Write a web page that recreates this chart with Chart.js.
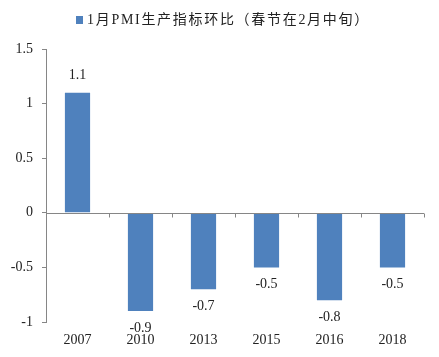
<!DOCTYPE html>
<html><head><meta charset="utf-8">
<script src="https://cdn.jsdelivr.net/npm/chart.js@4"></script>
<style>html,body{margin:0;padding:0;background:#fff}#wrap{width:439px;height:357px}</style>
</head><body><div id="wrap"><canvas id="c" width="439" height="357"></canvas></div>
<script>
const categories = ['2007','2010','2013','2015','2016','2018'];
const values = [1.1, -0.9, -0.7, -0.5, -0.8, -0.5];
const seriesName = '1月PMI生产指标环比（春节在2月中旬）';
const yTicks = [-1, -0.5, 0, 0.5, 1, 1.5];

const FONT = '"Liberation Serif", "Noto Sans CJK SC", serif';
const AXIS = '#868686';
const BAR = 'rgb(79,129,189)';

const overlay = {
  id: 'overlay',
  afterDatasetsDraw(chart) {
    const ctx = chart.ctx, x = chart.scales.x, y = chart.scales.y;
    const y0 = Math.round(y.getPixelForValue(0)) + 0.5;
    ctx.save();
    ctx.strokeStyle = AXIS; ctx.lineWidth = 1;
    ctx.beginPath();
    ctx.moveTo(x.left, y0); ctx.lineTo(x.right, y0);
    const n = categories.length;
    for (let i = 1; i <= n; i++) {
      const px = Math.round(x.left + (x.right - x.left) * i / n) + 0.5;
      ctx.moveTo(px, y0); ctx.lineTo(px, y0 + 4);
    }
    ctx.stroke();
    ctx.font = '14px ' + FONT;
    ctx.fillStyle = '#222';
    ctx.textAlign = 'center'; ctx.textBaseline = 'middle';
    const meta = chart.getDatasetMeta(0);
    meta.data.forEach((bar, i) => {
      const v = values[i];
      const yy = v >= 0 ? bar.y - 17 : bar.y + 17;
      ctx.fillText(String(v), bar.x, yy);
    });
    // legend
    const items = chart.data.datasets.map(d => ({ text: d.label, color: d.backgroundColor }));
    ctx.letterSpacing = '1.7px';
    ctx.textAlign = 'left';
    items.forEach(it => {
      ctx.fillStyle = it.color;
      ctx.fillRect(76, 16, 7, 8);
      ctx.fillStyle = '#222';
      ctx.fillText(it.text, 87, 20.5);
    });
    ctx.restore();
  }
};

new Chart(document.getElementById('c'), {
  type: 'bar',
  data: {
    labels: categories,
    datasets: [{
      label: seriesName,
      data: values,
      backgroundColor: BAR,
      categoryPercentage: 1,
      barPercentage: 0.4
    }]
  },
  options: {
    responsive: false,
    animation: false,
    layout: { padding: { top: 49, right: 15, bottom: 0, left: 0 } },
    plugins: {
      legend: { display: false },
      tooltip: { enabled: false }
    },
    scales: {
      x: {
        afterFit(s) { s.height = 35; },
        grid: { display: false, drawTicks: false },
        border: { display: false },
        ticks: { color: '#222', padding: 10, font: { size: 14, family: FONT } }
      },
      y: {
        min: -1, max: 1.5,
        afterFit(s) { s.width = 46; },
        afterBuildTicks(s) { s.ticks = yTicks.map(v => ({ value: v })); },
        grid: { display: true, drawOnChartArea: false, drawTicks: true, tickLength: 4, color: AXIS },
        border: { display: true, color: AXIS },
        ticks: { color: '#222', padding: 9, font: { size: 14, family: FONT }, callback: v => String(v) }
      }
    }
  },
  plugins: [overlay]
});
</script></body></html>
